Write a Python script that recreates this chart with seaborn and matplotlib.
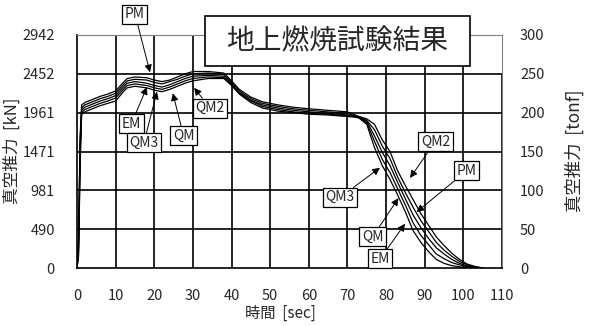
import matplotlib
matplotlib.use("Agg")
import matplotlib.pyplot as plt
from matplotlib.patches import Rectangle
import numpy as np
import pandas as pd
import seaborn as sns

# Time base of the firing records [sec]
TIME = [0, 0.4, 0.8, 1.2, 2, 4, 6, 8, 10, 12, 13, 15, 18, 20, 22, 24, 26, 28, 30, 34,
        38, 40, 42, 45, 48, 52, 56, 60, 65, 70, 73, 75, 77, 79, 81, 83, 85, 87, 89, 91,
        93, 95, 97, 99, 101, 103, 105]

# Vacuum thrust per motor [tonf]
PM = [0, 40, 170, 210, 213, 217, 221, 224, 228, 239, 244, 246, 245, 242, 240, 242, 246, 250, 253, 253,
      251, 241, 230, 220, 214, 210, 207, 205, 203, 201, 195, 190, 178, 157, 141, 117, 97, 78, 61, 47,
      33, 23, 15, 8.5, 4, 1.5, 0]
EM = [0, 30, 160, 206, 210, 214, 218, 221, 225, 236, 241, 243, 242, 239, 237, 240, 243, 247, 250, 251,
      249, 239, 228, 218, 212, 208, 205, 203, 201, 199, 194, 189, 170, 149, 132, 110, 89, 68, 52, 38,
      26, 18, 11, 6, 2.5, 1, 0]
QM3 = [0, 25, 150, 203, 207, 211, 215, 218, 222, 233, 238, 240, 238, 235, 233, 236, 240, 244, 247, 248,
       247, 237, 226, 216, 210, 206, 203, 201, 199, 197, 193, 185, 155, 132, 114, 94, 72, 48, 33, 21,
       11, 6, 3, 1.5, 0, 0, 0]
QM2 = [0, 20, 140, 200, 204, 208, 212, 215, 219, 230, 235, 237, 235, 232, 230, 233, 237, 241, 244, 246,
       245, 236, 225, 215, 208, 204, 201, 199, 198, 196, 195, 192, 185, 165, 150, 125, 106, 88, 70, 55,
       40, 29, 19, 11, 5, 2, 0]
QM = [0, 15, 130, 198, 201, 205, 209, 212, 215, 227, 232, 234, 232, 229, 227, 230, 234, 238, 241, 244,
      244, 235, 224, 213, 206, 202, 200, 198, 197, 195, 194, 187, 163, 140, 123, 102, 81, 58, 42, 30,
      18, 12, 7, 4, 1.5, 0.5, 0]

MOTORS = {"PM": PM, "EM": EM, "QM3": QM3, "QM2": QM2, "QM": QM}

X_TICKS = [0, 10, 20, 30, 40, 50, 60, 70, 80, 90, 100, 110]
TONF_TICKS = [0, 50, 100, 150, 200, 250, 300]
KN_LABELS = ["0", "490", "981", "1471", "1961", "2452", "2942"]

# Callouts: (text, text position, arrow tip) in data units
CALLOUTS = [
    ("PM", (15.0, 327), (18.9, 252)),
    ("EM", (14.1, 186), (18.1, 233)),
    ("QM3", (17.3, 161), (20.7, 227)),
    ("QM", (27.6, 170), (24.8, 225)),
    ("QM2", (34.5, 206), (30.3, 232)),
    ("QM3", (68.1, 91), (78.4, 129)),
    ("QM2", (92.8, 163), (86.2, 116)),
    ("PM", (100.8, 125), (87.9, 72)),
    ("QM", (76.5, 40), (83.2, 90)),
    ("EM", (78.5, 12), (84.9, 57)),
]

rows = []
for name, vals in MOTORS.items():
    for t, v in zip(TIME, vals):
        rows.append({"time": t, "thrust": v, "motor": name})
df = pd.DataFrame(rows)

sns.set_style("white")
plt.rcParams["font.family"] = ["Noto Sans CJK JP", "DejaVu Sans"]

W, H = 593, 326
fig = plt.figure(figsize=(W / 100, H / 100), dpi=100)
ax = fig.add_axes([77 / W, 58 / H, 425 / W, 233 / H])

# grid drawn by hand so the frame edges keep their own colours
for x in X_TICKS[1:-1]:
    ax.axvline(x, color="black", lw=1.2, zorder=1)
for y in TONF_TICKS[1:-1]:
    ax.axhline(y, color="black", lw=1.2, zorder=1)

sns.lineplot(data=df, x="time", y="thrust", hue="motor", units="motor",
             estimator=None, sort=False, palette={k: "black" for k in MOTORS},
             legend=False, lw=0.9, ax=ax, zorder=3)

ax.set_xlim(X_TICKS[0], X_TICKS[-1])
ax.set_ylim(TONF_TICKS[0], TONF_TICKS[-1])
ax.set_xlabel("")
ax.set_ylabel("")
ax.set_xticks(X_TICKS)
ax.set_xticklabels([str(x) for x in X_TICKS])
ax.set_yticks(TONF_TICKS)
ax.set_yticklabels(KN_LABELS)
ax.tick_params(axis="x", length=0, pad=15, labelsize=10.5)
ax.tick_params(axis="y", length=0, pad=16, labelsize=10.5)

for side in ("left", "bottom"):
    ax.spines[side].set_color("black")
    ax.spines[side].set_linewidth(1.2)
ax.spines["top"].set_color("#808080")
ax.spines["top"].set_linewidth(0.8)
ax.spines["right"].set_color("#808080")
ax.spines["right"].set_linewidth(0.8)
ax.axvline(X_TICKS[-1], ymin=0, ymax=TONF_TICKS[-2] / TONF_TICKS[-1],
           color="black", lw=1.2, zorder=2, clip_on=False)

ax2 = ax.twinx()
ax2.set_ylim(TONF_TICKS[0], TONF_TICKS[-1])
ax2.set_yticks(TONF_TICKS)
ax2.set_yticklabels([str(v) for v in TONF_TICKS])
ax2.tick_params(axis="y", length=0, pad=13, labelsize=10.5)
for s in ax2.spines.values():
    s.set_visible(False)
ax2.grid(False)

for text, xytext, xy in CALLOUTS:
    ax.annotate(text, xy=xy, xytext=xytext, textcoords="data",
                ha="center", va="center", fontsize=10, annotation_clip=False,
                bbox=dict(boxstyle="square,pad=0.18", fc="white", ec="black", lw=0.9),
                arrowprops=dict(arrowstyle="-|>", color="black", lw=0.7,
                                mutation_scale=11, shrinkA=0, shrinkB=0),
                zorder=6)

# title box
fig.patches.append(Rectangle((205 / W, 1 - 66 / H), 265 / W, 50 / H,
                             transform=fig.transFigure, fc="white", ec="black",
                             lw=1.2, zorder=5))
fig.text(337.5 / W, 1 - 41 / H, "地上燃焼試験結果", fontsize=20,
         ha="center", va="center", zorder=6)

fig.text(12 / W, 1 - 151 / H, "真空推力  [kN]", rotation=90, fontsize=12,
         ha="center", va="center")
fig.text(574 / W, 1 - 151 / H, "真空推力  [tonf]", rotation=90, fontsize=12.5,
         ha="center", va="center")
fig.text(280 / W, 1 - 313 / H, "時間  [sec]", fontsize=11,
         ha="center", va="center")

fig.savefig("out.png", dpi=100)
